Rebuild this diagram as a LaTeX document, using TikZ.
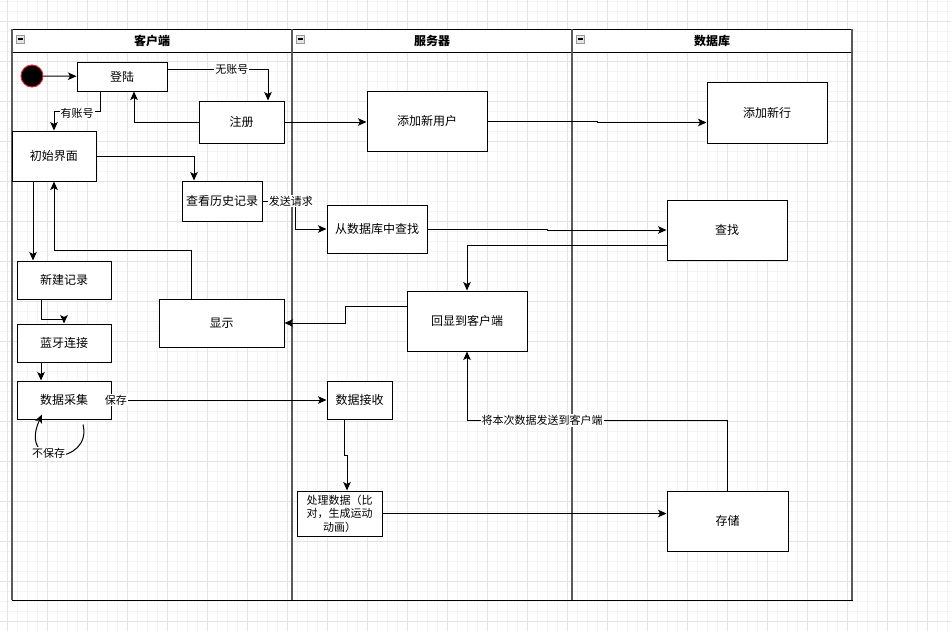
\documentclass[tikz,border=0pt]{standalone}
\usepackage{fontspec}
\setmainfont{Noto Sans CJK SC}
\usetikzlibrary{arrows.meta,calc}

\definecolor{gridminor}{HTML}{F4F4F4}
\definecolor{gridmajor}{HTML}{E4E4E4}
\definecolor{startred}{HTML}{E0252B}

\tikzset{
  box/.style={draw=black, line width=1pt, fill=white, inner sep=2pt,
              font=\fontsize{12}{14}\selectfont, align=center},
  lbl/.style={fill=white, inner sep=1pt, font=\fontsize{11}{13}\selectfont},
  arr/.style={draw=black, line width=1pt,
              -{Stealth[length=8.5pt,width=7.5pt,inset=2pt]}},
  lanehead/.style={font=\fontsize{12}{14}\selectfont\bfseries},
  minusbox/.style={draw=gray!80, fill=gray!20, line width=0.8pt},
}

\begin{document}
\begin{tikzpicture}[x=1pt, y=-1pt]
  \useasboundingbox (0,0) rectangle (951,630);
  \fill[white] (0,0) rectangle (951,630);

  % background grid
  \begin{scope}[shift={(7,1.7)}]
    \draw[gridminor, line width=0.8pt, step=10pt] (-10,-10) grid (950,635);
  \end{scope}
  \begin{scope}[shift={(7,21.7)}]
    \draw[gridmajor, line width=1pt, step=40pt] (-40,-40) grid (950,640);
  \end{scope}

  % swimlane pool
  \foreach \i/\t in {0/客户端, 1/服务器, 2/数据库} {
    \pgfmathsetmacro{\xa}{12+280*\i}
    \pgfmathsetmacro{\xb}{\xa+280}
    \draw[black, line width=1pt, fill=white] (\xa,29) rectangle (\xb,52);
    \draw[black, line width=1pt] (\xa,52) rectangle (\xb,600);
    \draw[gray!70!black, line width=1.6pt] (\xa,29) -- (\xa,600);
    \draw[minusbox] ($(\xa,35)+(4,0)$) rectangle ($(\xa,43)+(12,0)$);
    \draw[black, line width=1.1pt] ($(\xa,39)+(5.5,0)$) -- ($(\xa,39)+(10.5,0)$);
    \node[lanehead] (head\i) at ($(\xa,40.5)+(140,0)$) {\t};
  }
  \draw[gray!70!black, line width=1.6pt] (852,29) -- (852,600);

  % client lane
  \node[circle, draw=startred, fill=black, line width=1pt, minimum size=22pt, inner sep=0pt] (start) at (32,76) {};
  \node[box, minimum width=90pt, minimum height=29pt] (login) at (122,76.5) {登陆};
  \node[box, minimum width=85pt, minimum height=42pt] (reg) at (241.5,122) {注册};
  \node[box, minimum width=84pt, minimum height=50pt] (init) at (54,156) {初始界面};
  \node[box, minimum width=80pt, minimum height=40pt] (hist) at (222,201) {查看历史记录};
  \node[box, minimum width=94pt, minimum height=38pt] (newrec) at (64,280) {新建记录};
  \node[box, minimum width=94pt, minimum height=38pt] (bt) at (64,343) {蓝牙连接};
  \node[box, minimum width=94pt, minimum height=38pt] (collect) at (64,400) {数据采集};
  \node[box, minimum width=125pt, minimum height=48pt] (show) at (221.5,323) {显示};

  % server lane
  \node[box, minimum width=120pt, minimum height=60pt] (adduser) at (427,121) {添加新用户};
  \node[box, minimum width=100pt, minimum height=48pt] (query) at (377,229) {从数据库中查找};
  \node[box, minimum width=120pt, minimum height=60pt] (echo) at (467,321) {回显到客户端};
  \node[box, minimum width=65pt, minimum height=38pt] (recv) at (359.5,400) {数据接收};
  \node[box, minimum width=85pt, minimum height=45pt, inner sep=1pt,
        font=\fontsize{11}{13.5}\selectfont] (proc) at (339.5,513.5) {处理数据（比\\对，生成运动\\动画）};

  % database lane
  \node[box, minimum width=120pt, minimum height=61pt] (addrow) at (767,112.5) {添加新行};
  \node[box, minimum width=120pt, minimum height=60pt] (find) at (727,230) {查找};
  \node[box, minimum width=121pt, minimum height=60pt] (store) at (727.5,521) {存储};

  % connectors
  \draw[arr] (start) -- (login);
  \draw[arr] ([yshift=7.5pt]login.east) -| node[lbl, pos=0.32] {无账号} ([xshift=26.5pt]reg.north);
  \draw[arr] (reg.west) -| ([xshift=12pt]login.south);
  \draw[arr] ([xshift=-22pt]login.south) -- ++(0,20) -| node[lbl, pos=0.25, yshift=-2pt] {有账号} (init.north);
  \draw[arr] (init.east) -| ([xshift=-28pt]hist.north);
  \draw[arr] (reg.east) -- (reg.east -| adduser.west);
  \draw[arr] (adduser.east) -- ++(110,0) |- ([yshift=-10pt]addrow.west);
  \draw[arr] (hist.east) -- node[lbl, pos=0.15, anchor=west] {发送请求} ++(33,0) |- (query.west);
  \draw[arr] (query.east) -- ++(120,0) |- (find.west);
  \draw[arr] ([yshift=-15.7pt]find.west) -| (echo.north);
  \draw[arr] ([yshift=15pt]echo.west) -- ++(-61,0) |- (show.east);
  \draw[arr] ([xshift=-30.5pt]show.north) -- ++(0,-48) -| (init.south);
  \draw[arr] ([xshift=-21pt]init.south) -- ([xshift=-31pt]newrec.north);
  \draw[arr] ([xshift=-23pt]newrec.south) -- ++(0,20) -| (bt.north);
  \draw[arr] ([xshift=-23pt]bt.south) -- ([xshift=-23pt]collect.north);
  \draw[arr] ([xshift=19pt,yshift=-5pt]collect.south)
     .. controls +(10,40) and +(-25,55) .. node[lbl, pos=0.6] {不保存}
     ([xshift=-22pt,yshift=5pt]collect.south);
  \draw[arr] (collect.east) -- node[lbl, pos=0.02] {保存} (recv.west);
  \draw[arr] ([xshift=-15.5pt]recv.south) -- ++(0,36) -| ([xshift=7.5pt]proc.north);
  \draw[arr] (proc.east) -- (proc.east -| store.west);
  \draw[arr] (store.north) -- ++(0,-70) -| node[lbl, pos=0.356] {将本次数据发送到客户端} (echo.south);
\end{tikzpicture}
\end{document}
